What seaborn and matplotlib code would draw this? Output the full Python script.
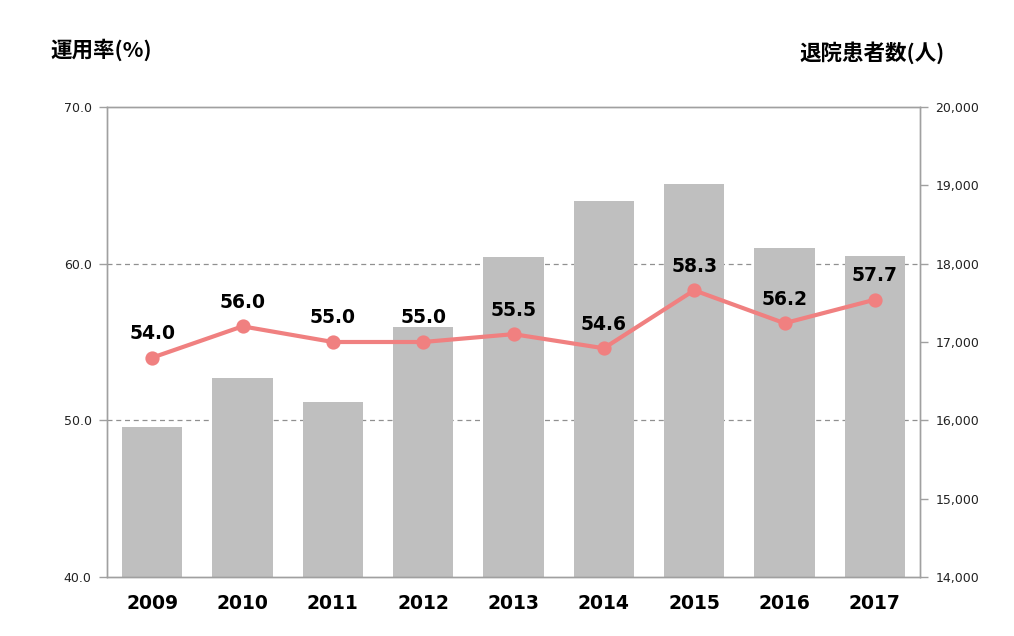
import matplotlib
matplotlib.use("Agg")
import matplotlib.pyplot as plt
import seaborn as sns
import pandas as pd
from matplotlib.ticker import FixedLocator, FuncFormatter

years = ["2009", "2010", "2011", "2012", "2013", "2014", "2015", "2016", "2017"]
discharges = [15915, 16545, 16240, 17195, 18090, 18800, 19015, 18200, 18100]
rates = [54.0, 56.0, 55.0, 55.0, 55.5, 54.6, 58.3, 56.2, 57.7]
left_ticks = [40.0, 50.0, 60.0, 70.0]
right_ticks = [14000, 15000, 16000, 17000, 18000, 19000, 20000]
left_title = "運用率(%)"
right_title = "退院患者数(人)"

sns.set_style("white")
plt.rcParams["font.family"] = ["DejaVu Sans", "Noto Sans CJK JP"]
cjk = ["Noto Sans CJK JP", "DejaVu Sans"]

df = pd.DataFrame({"year": years, "discharges": discharges, "rate": rates})

fig = plt.figure(figsize=(10.14, 6.36), dpi=100)
ax1 = fig.add_axes([107 / 1014, 1 - 577 / 636, (920 - 107) / 1014, (577 - 107) / 636])
ax2 = ax1.twinx()

axis_col = "#A0A0A0"
sns.barplot(data=df, x="year", y="discharges", order=years, color="#BFBFBF",
            width=0.67, saturation=1, ax=ax1, zorder=2, edgecolor="none", linewidth=0)
ax1.set_ylim(14000, 20000)
ax1.set_xlim(-0.5, len(years) - 0.5)
ax1.set_xlabel("")
ax1.set_ylabel("")
for y in [16000, 18000]:
    ax1.axhline(y, color="#909090", lw=0.9, ls=(0, (4, 3)), zorder=0)
ax1.set_axisbelow(True)

sns.pointplot(data=df, x="year", y="rate", order=years, color="#F08080",
              markers="o", markersize=8, linewidth=3, ax=ax2)
ax2.set_ylim(40, 70)
ax2.set_xlim(-0.5, len(years) - 0.5)
ax2.set_xlabel("")
ax2.set_ylabel("")

# right axis: discharges (bars), left axis: rate (line)
ax1.yaxis.tick_right()
ax1.yaxis.set_major_locator(FixedLocator(right_ticks))
ax1.yaxis.set_major_formatter(FuncFormatter(lambda v, p: f"{int(v):,}"))
ax2.yaxis.tick_left()
ax2.yaxis.set_major_locator(FixedLocator(left_ticks))
ax2.yaxis.set_major_formatter(FuncFormatter(lambda v, p: f"{v:.1f}"))

for i, r in enumerate(rates):
    ax2.annotate(f"{r:.1f}", (i, r), xytext=(0, 10.5), textcoords="offset points",
                 ha="center", va="bottom", fontsize=13.5, fontweight="bold", color="black")

for ax in (ax1, ax2):
    for s in ax.spines.values():
        s.set_visible(True)
        s.set_color(axis_col)
        s.set_linewidth(1)
    ax.tick_params(axis="y", direction="out", length=6, width=1, color=axis_col,
                   labelsize=9, labelcolor="#222222", pad=5)

ax1.set_xticks(range(len(years)))
ax1.set_xticklabels(years, fontsize=13.5, fontweight="bold")
ax1.tick_params(axis="x", which="major", length=0, pad=12, labelcolor="black")
ax1.set_xticks([i - 0.5 for i in range(len(years) + 1)], minor=True)
ax1.tick_params(axis="x", which="minor", direction="out", length=6, width=1, color=axis_col)
ax2.tick_params(axis="x", which="both", length=0, labelbottom=False)

fig.text(50 / 1014, 1 - 50 / 636, left_title, family=cjk, fontsize=15.5, fontweight="bold",
         ha="left", va="center", color="black")
fig.text(945 / 1014, 1 - 53 / 636, right_title, family=cjk, fontsize=15.5, fontweight="bold",
         ha="right", va="center", color="black")

fig.savefig("out.png", dpi=100)
